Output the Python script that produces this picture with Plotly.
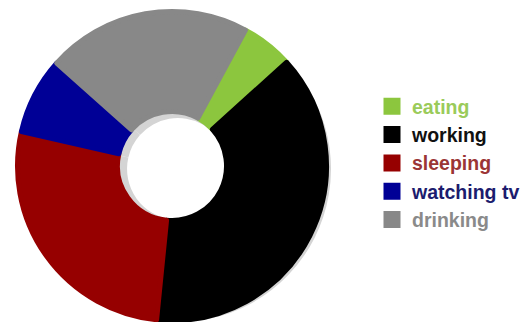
import plotly.graph_objects as go

categories = ["eating", "working", "sleeping", "watching tv", "drinking"]
values = [5.4, 38.3, 27.0, 8.0, 21.3]
slice_colors = ["#8cc63e", "#000000", "#960000", "#000096", "#888888"]
text_colors = ["#9acb5a", "#111111", "#9b3535", "#1c1c6e", "#8a8a8a"]

W, H = 530, 322
cx, cy, R = 172, 166, 157  # target pixel centre / radius (from top-left)
LW = 5                      # slice stroke (also enlarges legend squares)
Rm = R - LW / 2

def dom(cxp, cyp, r):
    x0 = (cxp - r) / W
    x1 = (cxp + r) / W
    y0 = (H - (cyp + r)) / H
    y1 = (H - (cyp - r)) / H
    return dict(x=[max(0, x0), min(1, x1)], y=[max(0, y0), min(1, y1)])

labels_html = [f"<span style='color:{c}'>{t}</span>" for t, c in zip(categories, text_colors)]

fig = go.Figure()

# soft shadow behind the donut
shadow_r = 153
fig.add_trace(go.Pie(
    labels=["shadow " + c for c in categories], values=values,
    sort=False, direction="clockwise", rotation=28.4,
    hole=0.333, textinfo="none", hoverinfo="skip", showlegend=False,
    marker=dict(colors=["#d4d4d4"] * len(values), line=dict(width=0)),
    domain=dom(cx + 6, cy + 3, shadow_r),
))

fig.add_trace(go.Pie(
    labels=labels_html, values=values,
    sort=False, direction="clockwise", rotation=28.4,
    hole=(52 + LW / 2) / Rm, textinfo="none",
    marker=dict(colors=slice_colors, line=dict(color=slice_colors, width=LW)),
    domain=dom(cx, cy, Rm),
    hovertemplate="%{label}: %{value}<extra></extra>",
))

fig.update_layout(
    width=W, height=H,
    margin=dict(l=0, r=0, t=0, b=0),
    paper_bgcolor="white", plot_bgcolor="white",
    legend=dict(
        x=372 / W, xanchor="left", y=(H - 163) / H, yanchor="middle",
        font=dict(family="Liberation Sans, Arial, sans-serif", size=19.5, weight="bold", color="#000"),
        bgcolor="rgba(0,0,0,0)", borderwidth=0,
    ),
)

fig.write_html(
    "out.html",
    config={"displayModeBar": False},
    post_script="document.body.style.margin='0';document.body.style.overflow='hidden';",
)
